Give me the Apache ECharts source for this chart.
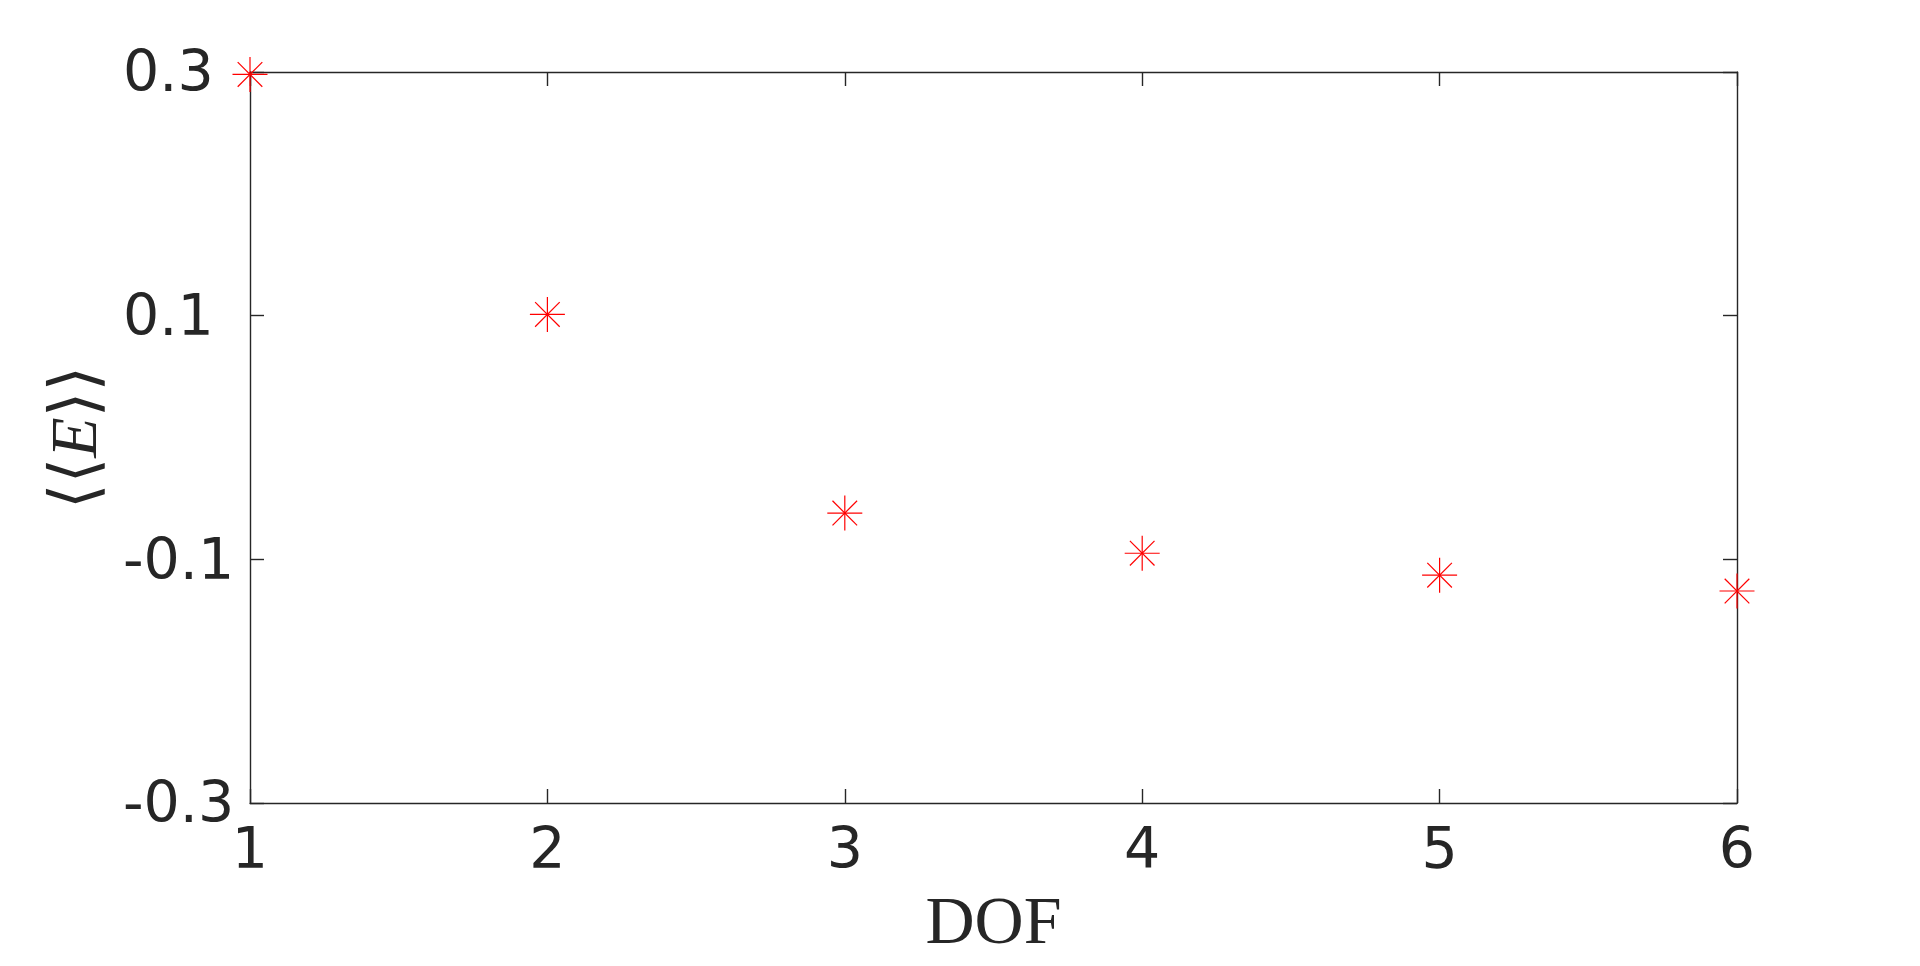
<!DOCTYPE html>
<html>
<head>
<meta charset="utf-8">
<script src="https://cdn.jsdelivr.net/npm/echarts@6/dist/echarts.min.js"></script>
<style>
html,body{margin:0;padding:0;background:#fff;}
#chart{width:1920px;height:966px;}
</style>
</head>
<body>
<div id="chart"></div>
<script>
const dof = [1, 2, 3, 4, 5, 6];
const energy = [0.298, 0.101, -0.062, -0.095, -0.113, -0.126];
const xTicks = [1, 2, 3, 4, 5, 6];
const yTicks = [-0.3, -0.1, 0.1, 0.3];

const axisColor = '#262626';
const chart = echarts.init(document.getElementById('chart'));

const pts = dof.map((d, i) => [d, energy[i]]);

function starItem(params, api) {
  const p = api.coord([api.value(0), api.value(1)]);
  const r = 17.5, d = 12.3;
  const st = { stroke: '#ff0000', lineWidth: 1.2 };
  const ln = (x1, y1, x2, y2) => ({ type: 'line', shape: { x1: p[0] + x1, y1: p[1] + y1, x2: p[0] + x2, y2: p[1] + y2 }, style: st });
  return {
    type: 'group',
    children: [
      ln(-r, 0, r, 0),
      ln(0, -r, 0, r),
      ln(-d, -d, d, d),
      ln(-d, d, d, -d)
    ]
  };
}

const baseAxis = {
  axisLine: { show: true, onZero: false, lineStyle: { color: axisColor, width: 1.4 } },
  axisTick: { show: true, inside: true, length: 14, lineStyle: { color: axisColor, width: 1.4 } },
  splitLine: { show: false }
};

chart.setOption({
  animation: false,
  backgroundColor: '#ffffff',
  grid: { left: 250, top: 72, width: 1487, height: 731, containLabel: false },
  xAxis: [
    Object.assign({}, baseAxis, {
      type: 'value', position: 'bottom', min: xTicks[0], max: xTicks[xTicks.length - 1], interval: 1,
      axisLabel: { show: true, margin: 22, color: axisColor, fontFamily: 'DejaVu Sans', fontSize: 57 },
      name: 'DOF', nameLocation: 'middle', nameGap: 88,
      nameTextStyle: { color: axisColor, fontFamily: 'Liberation Serif', fontSize: 68 }
    }),
    Object.assign({}, baseAxis, {
      type: 'value', position: 'top', min: xTicks[0], max: xTicks[xTicks.length - 1], interval: 1,
      axisLabel: { show: false }
    })
  ],
  yAxis: [
    Object.assign({}, baseAxis, {
      type: 'value', position: 'left', min: yTicks[0], max: yTicks[yTicks.length - 1], interval: 0.2,
      axisLabel: {
        show: true, margin: 127, align: 'left', color: axisColor,
        formatter: v => '{t|' + v.toFixed(1) + '}',
        rich: { t: { fontFamily: 'DejaVu Sans', fontSize: 57, color: axisColor, padding: [9, 0, 0, 0] } }
      },
      name: '{b|⟨⟨}{e|E}{b|⟩⟩}', nameLocation: 'middle', nameGap: 136, nameRotate: 90,
      nameTextStyle: {
        color: axisColor,
        rich: {
          b: { fontFamily: 'DejaVu Serif', fontSize: 66, color: axisColor },
          e: { fontFamily: 'Liberation Serif', fontStyle: 'italic', fontSize: 66, color: axisColor }
        }
      }
    }),
    Object.assign({}, baseAxis, {
      type: 'value', position: 'right', min: yTicks[0], max: yTicks[yTicks.length - 1], interval: 0.2,
      axisLabel: { show: false }
    })
  ],
  series: [{
    type: 'custom',
    xAxisIndex: 0,
    yAxisIndex: 0,
    clip: false,
    renderItem: starItem,
    data: pts,
    z: 10
  }]
});
</script>
</body>
</html>
